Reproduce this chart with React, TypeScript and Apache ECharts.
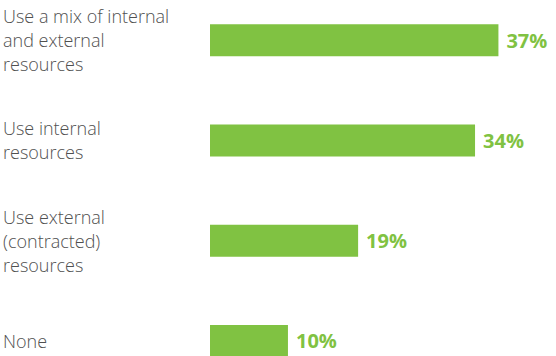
import React, { useEffect, useRef } from "react";
import * as echarts from "echarts";

const categories = [
  "Use a mix of internal\nand external\nresources",
  "Use internal\nresources",
  "Use external\n(contracted)\nresources",
  "None",
];
const values = [37, 34, 19, 10];

export default function App() {
  const ref = useRef<HTMLDivElement>(null);
  useEffect(() => {
    document.body.style.margin = "0";
    const chart = echarts.init(ref.current!, null, { renderer: "svg" });
    chart.setOption({
      animation: false,
      grid: { left: 210, top: 0, bottom: 0, right: 3 },
      xAxis: {
        type: "value",
        min: 0,
        max: 44,
        show: false,
      },
      yAxis: {
        type: "category",
        inverse: true,
        data: categories,
        axisLine: { show: false },
        axisTick: { show: false },
        axisLabel: {
          align: "left",
          margin: 207,
          fontFamily: "Open Sans",
          fontWeight: 300,
          fontSize: 18,
          lineHeight: 24,
          color: "#505050",
        },
      },
      series: [
        {
          type: "bar",
          data: values,
          barWidth: 32,
          itemStyle: { color: "#80c242" },
          label: {
            show: true,
            position: "right",
            distance: 8,
            formatter: "{c}%",
            fontFamily: "Open Sans",
            fontWeight: "bold",
            fontSize: 20,
            color: "#80c242",
          },
        },
      ],
    });
    return () => chart.dispose();
  }, []);
  return (
    <div style={{ width: 556, height: 356, overflow: "hidden", position: "relative" }}>
      <div ref={ref} style={{ width: 556, height: 401, position: "absolute", top: -10, left: 0 }} />
    </div>
  );
}
